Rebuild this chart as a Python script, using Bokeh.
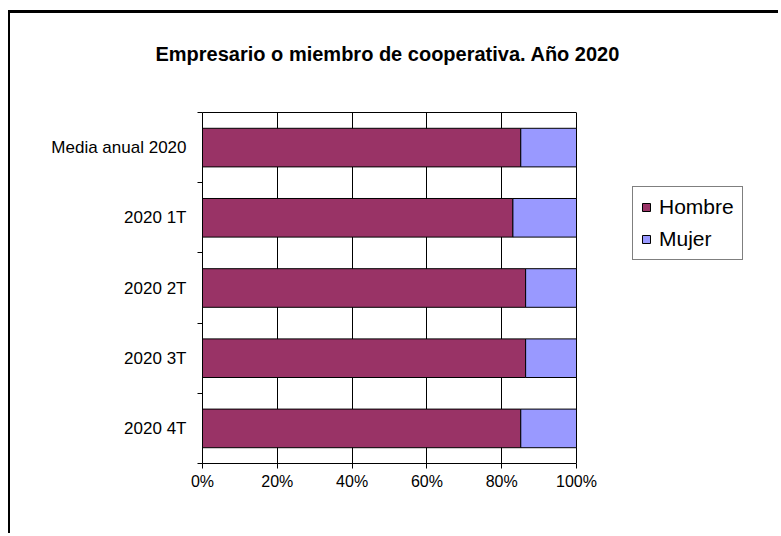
from bokeh.plotting import figure
from bokeh.models import (FixedTicker, Legend, LegendItem, ColumnDataSource, Range1d, Title, LinearAxis)
from bokeh.embed import file_html
from bokeh.resources import INLINE

title_text = "Empresario o miembro de cooperativa. Año 2020"
categories = ["Media anual 2020", "2020 1T", "2020 2T", "2020 3T", "2020 4T"]
hombre = [85.1, 83.0, 86.4, 86.4, 85.1]
mujer = [14.9, 17.0, 13.6, 13.6, 14.9]
series_names = ["Hombre", "Mujer"]
series_colors = ["#993366", "#9999FF"]
x_ticks = [0, 20, 40, 60, 80, 100]
x_tick_labels = ["0%", "20%", "40%", "60%", "80%", "100%"]

n = len(categories)
ypos = [n - 0.5 - i for i in range(n)]
src = ColumnDataSource(dict(y=ypos, cat=categories, Hombre=hombre, Mujer=mujer))

FONT = "Liberation Sans"

# layout (pixels)
W, H = 770, 523
left_px, right_pad, top_px, bottom_px = 192, 10, 99, 73
axis_len_px = 374          # pixel length of 0..100 %
frame_w = W - left_px - right_pad
x_end = 100.0 * frame_w / axis_len_px

p = figure(width=W, height=H, output_backend="svg", toolbar_location=None,
           x_range=Range1d(0, x_end), y_range=Range1d(0, n),
           min_border_left=left_px, min_border_right=right_pad,
           min_border_top=top_px, min_border_bottom=bottom_px)
p.styles = {"border-top": "3px solid black", "border-left": "2px solid black",
            "margin-top": "10px", "margin-left": "8px"}

renderers = p.hbar_stack(series_names, y="y", height=0.55, color=series_colors,
                         line_color="black", line_width=1, source=src)

# trailing empty lines keep the title well above the plot area
p.title = Title(text=title_text + "\n\n", align="left", offset=-47, text_font=FONT, text_font_size="20px",
                text_font_style="bold", text_color="black", standoff=8)

# x axis (bottom)
p.xaxis.bounds = (0, 100)
p.xaxis.ticker = FixedTicker(ticks=x_ticks)
p.xaxis.major_label_overrides = {t: l for t, l in zip(x_ticks, x_tick_labels)}
p.xaxis.major_tick_out = 5
p.xaxis.major_tick_in = 0
p.xaxis.minor_tick_out = 0
p.xaxis.minor_tick_in = 0
p.xaxis.major_label_text_font = FONT
p.xaxis.major_label_text_font_size = "16px"
p.xaxis.major_label_text_color = "black"
p.xaxis.major_label_standoff = 4
p.xaxis.axis_line_color = "black"
p.xaxis.major_tick_line_color = "black"

# top border of the plot area
top_axis = LinearAxis(bounds=(0, 100), ticker=FixedTicker(ticks=[]), major_tick_out=0, major_tick_in=0,
                      minor_tick_out=0, minor_tick_in=0, major_label_text_font_size="0px",
                      axis_line_color="black")
p.add_layout(top_axis, "above")

# y axis
p.yaxis.ticker = FixedTicker(ticks=ypos, minor_ticks=list(range(n + 1)))
p.yaxis.major_label_overrides = {y: c for y, c in zip(ypos, categories)}
p.yaxis.major_tick_out = 0
p.yaxis.major_tick_in = 0
p.yaxis.minor_tick_out = 5
p.yaxis.minor_tick_in = 0
p.yaxis.major_label_text_font = FONT
p.yaxis.major_label_text_font_size = "17px"
p.yaxis.major_label_text_color = "black"
p.yaxis.major_label_standoff = 11
p.yaxis.axis_line_color = "black"
p.yaxis.minor_tick_line_color = "black"

p.xgrid.ticker = FixedTicker(ticks=x_ticks)
p.xgrid.grid_line_color = "black"
p.xgrid.grid_line_width = 1
p.ygrid.grid_line_color = None

p.outline_line_color = None
p.background_fill_color = "white"
p.border_fill_color = "white"

legend = Legend(items=[LegendItem(label=nm, renderers=[r]) for nm, r in zip(series_names, renderers)],
                location=(430, 203), orientation="vertical",
                label_text_font=FONT, label_text_font_size="21px", label_text_color="black",
                glyph_width=10, glyph_height=10, label_standoff=8, label_height=20,
                spacing=8, padding=8, margin=0,
                border_line_color="black", border_line_width=1,
                background_fill_color="white", background_fill_alpha=1)
p.add_layout(legend, "center")

open("out.html", "w").write(file_html(p, INLINE))
